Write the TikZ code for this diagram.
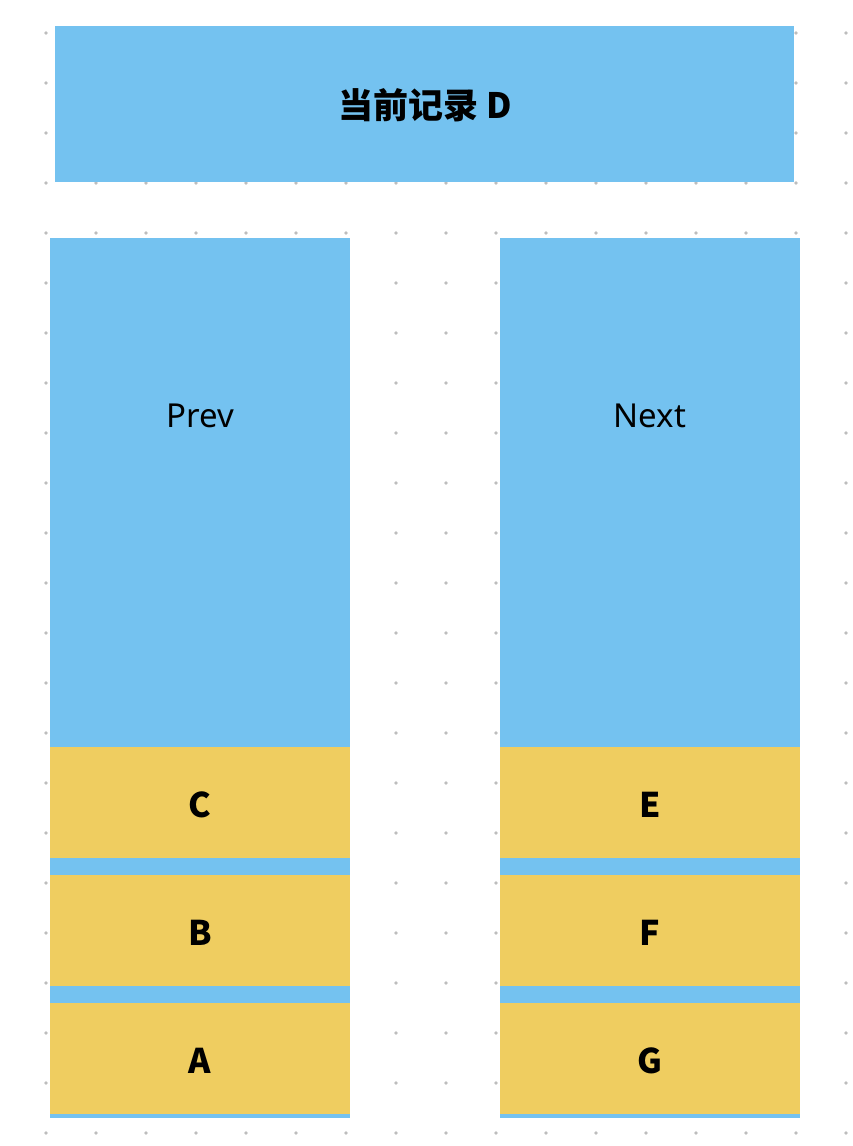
\documentclass[tikz,border=0pt]{standalone}
\usepackage{fontspec}
\setmainfont{Noto Sans}
\newfontfamily\cjk{Noto Sans CJK SC}
\definecolor{recblue}{HTML}{74C2F0}
\definecolor{recyellow}{HTML}{EFCD60}
\definecolor{dotgray}{HTML}{BDBDBD}

\begin{document}
\begin{tikzpicture}[x=1pt,y=-1pt,
    blk/.style={fill=recblue,draw=none,inner sep=0pt,anchor=north west,minimum width=300pt},
    rec/.style={fill=recyellow,draw=none,inner sep=0pt,anchor=north west,minimum width=300pt,minimum height=111pt},
    lbl/.style={inner sep=0pt,font=\fontsize{33}{40}\selectfont},
    key/.style={inner sep=0pt,yshift=-2.5pt,font=\cjk\bfseries\fontsize{34}{40}\selectfont}]
    \useasboundingbox (0,0) rectangle (852,1146);
    \foreach \i in {0,...,16}
      \foreach \j in {0,...,22}
        \fill[dotgray] (46+50*\i,33+50*\j) circle (1.9);
    \node[fill=recblue,inner sep=0pt,anchor=north west,minimum width=739pt,minimum height=156pt] (D) at (55,26) {};
    \node[inner sep=0pt] (Dt) at (425,105.5) {\cjk\bfseries\fontsize{35}{42}\selectfont 当前记录 D};
    % prev column
    \node[blk,minimum height=880pt] (P) at (50,238) {};
    \node[lbl] (Pt) at (200,416) {Prev};
    \node[rec] (C) at (50,747) {};
    \node[key] at (C) {C};
    \node[rec] (B) at (50,875) {};
    \node[key] at (B) {B};
    \node[rec] (A) at (50,1003) {};
    \node[key] at (A) {A};
    % next column
    \node[blk,minimum height=880pt] (N) at (500,238) {};
    \node[lbl] (Nt) at (650,416) {Next};
    \node[rec] (E) at (500,747) {};
    \node[key] at (E) {E};
    \node[rec] (F) at (500,875) {};
    \node[key] at (F) {F};
    \node[rec] (G) at (500,1003) {};
    \node[key] at (G) {G};
\end{tikzpicture}
\end{document}
